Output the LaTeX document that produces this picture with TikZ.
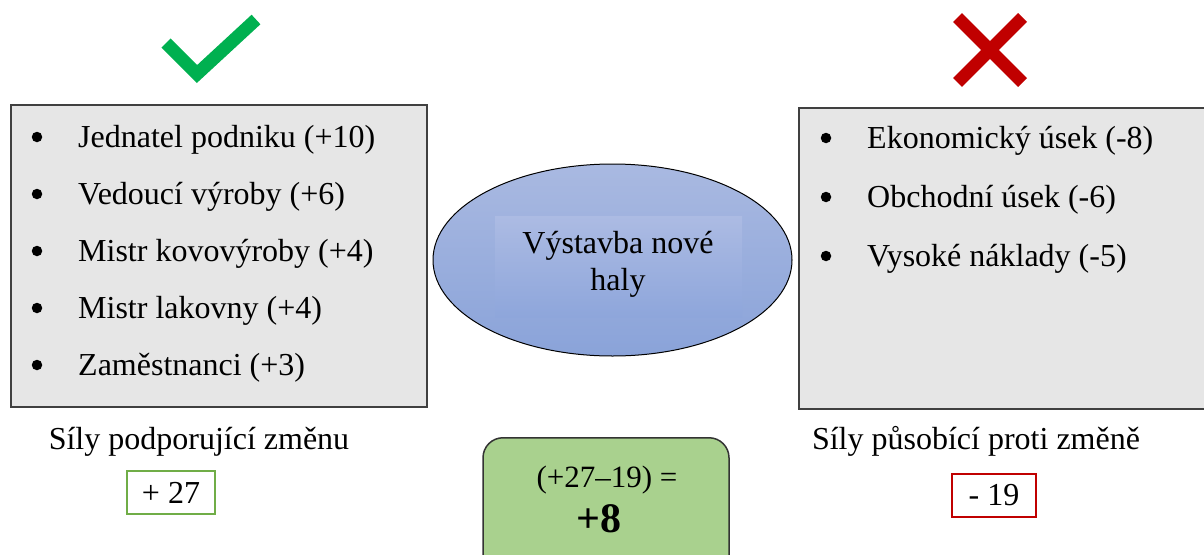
\documentclass[tikz,border=0pt]{standalone}
\usepackage{fontspec}
\setmainfont{Liberation Serif}
\usetikzlibrary{shapes.geometric}
\definecolor{okgreen}{HTML}{00B050}
\definecolor{nored}{HTML}{C00000}
\definecolor{panelgray}{HTML}{E6E6E6}
\definecolor{framegray}{HTML}{404040}
\definecolor{ovaltop}{HTML}{A9B9E1}
\definecolor{ovalbot}{HTML}{8AA3D9}
\definecolor{labeltop}{HTML}{ACBBE3}
\definecolor{labelbot}{HTML}{8EA6DB}
\definecolor{sumgreen}{HTML}{A9D18E}
\definecolor{boxgreen}{HTML}{70AD47}

\begin{document}
\begin{tikzpicture}[x=1pt,y=-1pt,
  every node/.style={inner sep=0pt, font=\fontsize{32}{38}\selectfont},
  item/.style={anchor=base west},
  dot/.style={circle, fill=black, minimum size=10.5pt, inner sep=0pt},
  panel/.style={draw=framegray, fill=panelgray, line width=1.5pt, anchor=north west},
  sumbox/.style={line width=2pt, fill=white, minimum height=43pt}]
\useasboundingbox (0,0) rectangle (1204,554);

% panels
\node[panel, minimum width=416pt, minimum height=302pt] (pro) at (10,104) {};
\node[panel, minimum width=420pt, minimum height=301pt] (con) at (798,107) {};

% check mark and cross
\draw[okgreen, line width=13pt, miter limit=10] (166,43) -- (197,74) -- (256,19.5);
\draw[nored, line width=12.7pt] (957.5,17.5) -- (1022.5,82.5) (1022.5,17.5) -- (957.5,82.5);

% supporting forces
\foreach \t [count=\i] in {Jednatel podniku (+10), Vedoucí výroby (+6), Mistr kovovýroby (+4), Mistr lakovny (+4), Zaměstnanci (+3)} {
  \pgfmathsetmacro\yy{147+57*(\i-1)}
  \node[dot] (prodot\i) at (37,\yy-10) {};
  \node[item] (proitem\i) at (78,\yy) {\t};
}

% opposing forces
\foreach \t [count=\i] in {Ekonomický úsek (-8), Obchodní úsek (-6), Vysoké náklady (-5)} {
  \pgfmathsetmacro\yy{148+59*(\i-1)}
  \node[dot] (condot\i) at (826,\yy-10) {};
  \node[item] (conitem\i) at (867,\yy) {\t};
}

% the change itself
\node[ellipse, draw=black, line width=1pt, top color=ovaltop, bottom color=ovalbot,
      minimum width=359pt, minimum height=192pt] (goal) at (612.5,260) {};
\node[top color=labeltop, bottom color=labelbot, minimum width=247pt, minimum height=101pt] (goalbox) at (618.5,266.5) {};
\node[anchor=base] (goaltxt1) at (618,253) {Výstavba nové};
\node[anchor=base] (goaltxt2) at (618,290) {haly};

% labels and totals
\node[anchor=base] (prolabel) at (199,449) {Síly podporující změnu};
\node[anchor=base] (conlabel) at (976,449) {Síly působící proti změně};
\node[sumbox, draw=boxgreen, minimum width=88pt] (prosum) at (171,492.5) {+ 27};
\node[sumbox, draw=nored, minimum width=84pt] (consum) at (994,495.5) {- 19};

% net result
\node[draw=black!80, fill=sumgreen, rounded corners=20pt, line width=1.5pt,
      minimum width=246pt, minimum height=140pt, anchor=north] (net) at (606,437) {};
\node[anchor=base, font=\fontsize{31}{36}\selectfont] (nettxt) at (607,487) {(+27–19) =};
\node[anchor=base, font=\fontsize{42}{48}\selectfont\bfseries] (netval) at (599,532) {+8};
\end{tikzpicture}
\end{document}
